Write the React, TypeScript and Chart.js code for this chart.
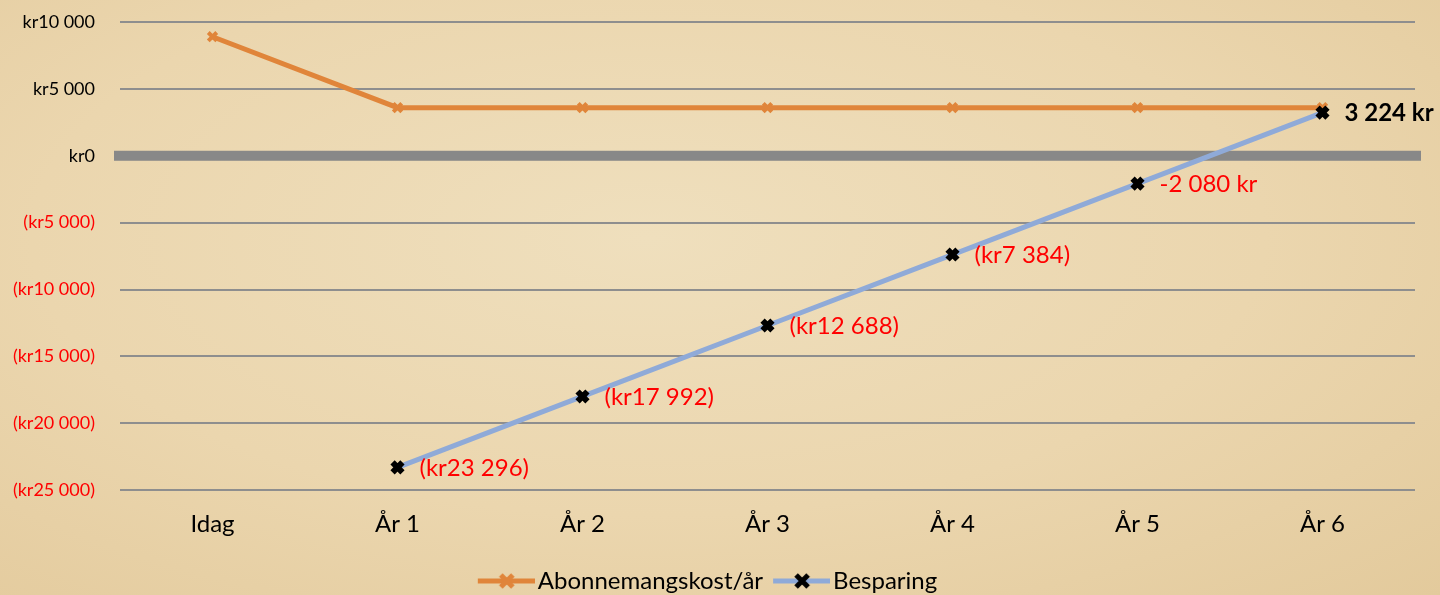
import React, { useEffect, useRef } from "react";
import { Chart, registerables } from "chart.js";

Chart.register(...registerables);

const categories = ["Idag", "År 1", "År 2", "År 3", "År 4", "År 5", "År 6"];
const abonnemang = [8900, 3596, 3596, 3596, 3596, 3596, 3596];
const besparing = [null, -23296, -17992, -12688, -7384, -2080, 3224];
const besparingLabels = ["", "(kr23 296)", "(kr17 992)", "(kr12 688)", "(kr7 384)", "-2 080 kr", "3 224 kr"];
const seriesNames = ["Abonnemangskost/år", "Besparing"];

const FONT = "Lato, 'Open Sans', sans-serif";
const ORANGE = "#E0853A";
const BLUE = "#8FAAD8";

const fmt = (n: number) => String(Math.abs(n)).replace(/\B(?=(\d{3})+(?!\d))/g, " ");

function legendIcon(lineColor: string, markColor: string) {
  const c = document.createElement("canvas");
  c.width = 66;
  c.height = 16;
  const g = c.getContext("2d")!;
  g.strokeStyle = lineColor;
  g.lineWidth = 5;
  g.beginPath();
  g.moveTo(9, 8);
  g.lineTo(66, 8);
  g.stroke();
  g.strokeStyle = markColor;
  g.lineWidth = 5;
  g.beginPath();
  g.moveTo(32, 2);
  g.lineTo(44, 14);
  g.moveTo(44, 2);
  g.lineTo(32, 14);
  g.stroke();
  return c;
}

const zeroLinePlugin = {
  id: "zeroLine",
  beforeDatasetsDraw(chart: any) {
    const { ctx, chartArea } = chart;
    const y = chart.scales.y.getPixelForValue(0);
    ctx.save();
    ctx.fillStyle = "#888888";
    ctx.fillRect(chartArea.left - 6, y - 5, chartArea.right - chartArea.left + 12, 10);
    ctx.restore();
  },
};

const labelPlugin = {
  id: "pointLabels",
  afterDatasetsDraw(chart: any) {
    const meta = chart.getDatasetMeta(1);
    const ctx = chart.ctx;
    ctx.save();
    ctx.textBaseline = "middle";
    ctx.textAlign = "left";
    meta.data.forEach((pt: any, i: number) => {
      const v = besparing[i];
      if (v === null || v === undefined) return;
      const pos = v >= 0;
      ctx.font = `${pos ? "bold " : ""}24px ${FONT}`;
      ctx.fillStyle = pos ? "#000000" : "#FF0000";
      ctx.fillText(besparingLabels[i], pt.x + 22, pt.y + 1);
    });
    ctx.restore();
  },
};

export default function App() {
  const ref = useRef<HTMLCanvasElement>(null);
  useEffect(() => {
    const iconA = legendIcon(ORANGE, ORANGE);
    const iconB = legendIcon(BLUE, "#000000");
    const chart = new Chart(ref.current!, {
      type: "line",
      data: {
        labels: categories,
        datasets: [
          {
            label: seriesNames[0],
            data: abonnemang,
            borderColor: ORANGE,
            backgroundColor: ORANGE,
            borderWidth: 5,
            pointStyle: "crossRot",
            pointRadius: 6,
            pointBorderWidth: 4,
            pointBorderColor: ORANGE,
            order: 2,
            tension: 0,
          },
          {
            label: seriesNames[1],
            data: besparing,
            borderColor: BLUE,
            backgroundColor: "#000",
            borderWidth: 5,
            pointStyle: "crossRot",
            pointRadius: 7,
            pointBorderWidth: 6,
            pointBorderColor: "#000000",
            order: 1,
            tension: 0,
          },
        ],
      },
      options: {
        animation: false,
        responsive: true,
        maintainAspectRatio: false,
        layout: { padding: { top: 22, right: 25, bottom: -8, left: 0 } },
        plugins: {
          tooltip: { enabled: false },
          legend: {
            position: "bottom",
            labels: {
              usePointStyle: true,
              pointStyleWidth: 48,
              padding: 10,
              color: "#000",
              font: { family: FONT, size: 24 },
              generateLabels: () => [
                { text: seriesNames[0], pointStyle: iconA, fillStyle: ORANGE, strokeStyle: ORANGE, lineWidth: 0, datasetIndex: 0, fontColor: "#000" } as any,
                { text: seriesNames[1], pointStyle: iconB, fillStyle: BLUE, strokeStyle: BLUE, lineWidth: 0, datasetIndex: 1, fontColor: "#000" } as any,
              ],
            },
          },
        },
        scales: {
          x: {
            offset: true,
            grid: { display: false, drawTicks: false },
            border: { display: false },
            ticks: { color: "#000", font: { family: FONT, size: 24 }, padding: 20 },
          },
          y: {
            min: -25000,
            max: 10000,
            afterFit: (s: any) => {
              s.width = 120;
            },
            border: { display: false },
            grid: {
              drawTicks: true,
              tickLength: 25,
              tickColor: "rgba(0,0,0,0)",
              color: (c: any) => (c.tick && c.tick.value === 0 ? "rgba(0,0,0,0)" : "#8E8E8E"),
              lineWidth: 2,
            },
            ticks: {
              stepSize: 5000,
              padding: 0,
              font: { family: FONT, size: 18 },
              color: (c: any) => (c.tick && c.tick.value < 0 ? "#FF0000" : "#000000"),
              callback: (v: any) => (v < 0 ? `(kr${fmt(v)})` : `kr${fmt(v)}`),
            },
          },
        },
      },
      plugins: [zeroLinePlugin, labelPlugin],
    });
    return () => chart.destroy();
  }, []);
  return (
    <div
      style={{
        position: "fixed",
        left: 0,
        top: 0,
        width: 1440,
        height: 595,
        background: "radial-gradient(ellipse at 45% 40%, #EFDFBD 0%, #EBD6AE 55%, #E3CA9C 100%)",
      }}
    >
      <canvas ref={ref} />
    </div>
  );
}
